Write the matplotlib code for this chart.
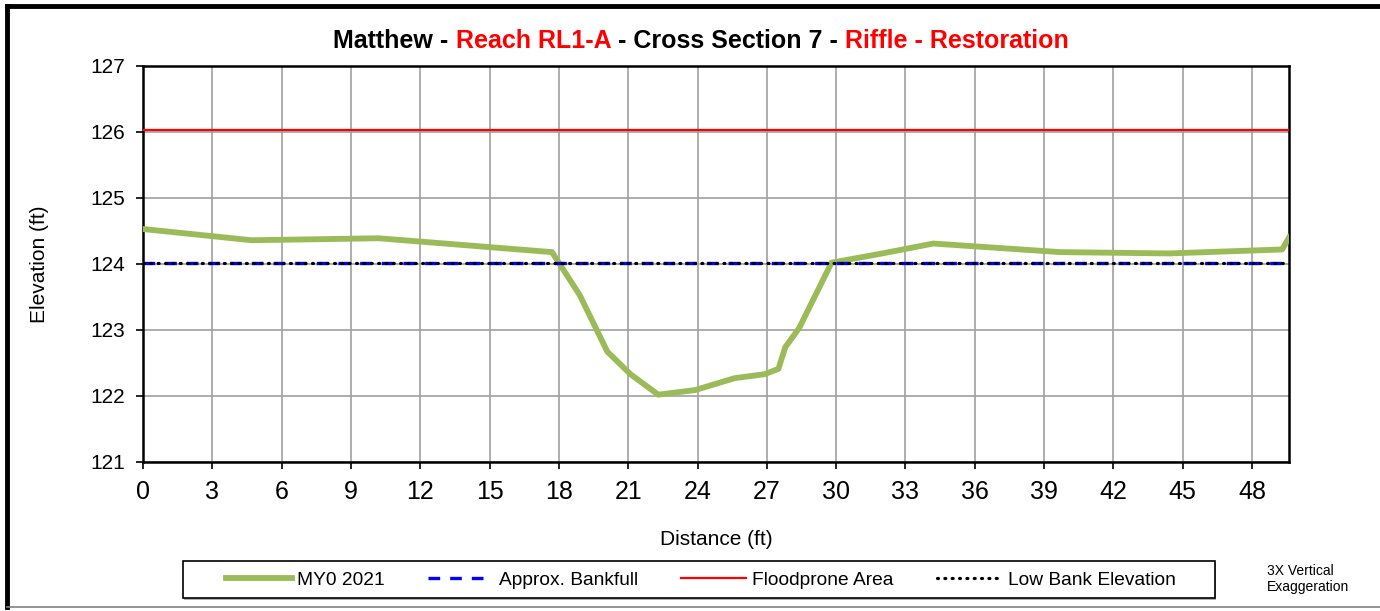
import matplotlib.pyplot as plt
from matplotlib.lines import Line2D
from matplotlib.patches import Rectangle

plt.rcParams['font.family'] = ['Liberation Sans', 'DejaVu Sans']

# surveyed cross section (distance ft, elevation ft)
station = [0.0, 4.7, 10.2, 17.7, 18.9, 20.1, 21.1, 22.3, 23.9, 25.6, 26.9,
           27.5, 27.8, 28.4, 29.8, 32.0, 34.2, 39.7, 44.4, 49.3, 49.6]
elevation = [124.53, 124.36, 124.39, 124.18, 123.53, 122.67, 122.33, 122.02,
             122.09, 122.27, 122.33, 122.41, 122.74, 123.03, 124.02, 124.16,
             124.31, 124.18, 124.16, 124.22, 124.40]

x_min, x_max = 0, 49.6
bankfull = 124.02
floodprone = 126.03
low_bank = 124.02

x_ticks = list(range(0, 49, 3))
y_ticks = list(range(121, 128))

fig = plt.figure(figsize=(13.8, 6.11), dpi=100)
ax = fig.add_axes([143 / 1380, 1 - 462 / 611, (1289 - 143) / 1380, (462 - 66) / 611])

ax.plot(station, elevation, color='#9BBB59', lw=4.2, solid_joinstyle='round',
        label='MY0 2021', zorder=3)
ax.plot([x_min, x_max], [bankfull, bankfull], color='#0000FF', lw=2.4,
        ls=(0, (3.5, 3.0)), label='Approx. Bankfull', zorder=4)
ax.plot([x_min, x_max], [floodprone, floodprone], color='#FF0000', lw=1.6,
        label='Floodprone Area', zorder=4)
ax.plot([x_min, x_max], [low_bank, low_bank], color='black', lw=2.3,
        ls=(0, (0.3, 2.0)), dash_capstyle='round', label='Low Bank Elevation', zorder=5)

ax.set_xlim(x_min, x_max)
ax.set_ylim(121, 127)
ax.set_xticks(x_ticks)
ax.set_yticks(y_ticks)
ax.grid(True, color='#a0a0a0', lw=1.2)
ax.set_axisbelow(True)
for s in ax.spines.values():
    s.set_linewidth(1.8)
ax.tick_params(axis='x', labelsize=18, direction='out', length=5, width=1.2, pad=8)
ax.tick_params(axis='y', labelsize=15, direction='out', length=5, width=1.2, pad=8)
ax.set_xlabel('Distance (ft)', fontsize=15, labelpad=19)
ax.set_ylabel('Elevation (ft)', fontsize=15, labelpad=30)

# two-colour title
parts = [('Matthew - ', 'black'), ('Reach RL1-A', 'red'), (' - Cross Section 7 - ', 'black'),
         ('Riffle - Restoration', 'red')]
fig.canvas.draw()
r = fig.canvas.get_renderer()
widths = []
texts = []
for s, c in parts:
    t = fig.text(0, 1 - 41 / 611, s, color=c, fontsize=18, fontweight='bold', va='center')
    texts.append(t)
    widths.append(t.get_window_extent(r).width)
x0 = 701 - sum(widths) / 2
for t, w in zip(texts, widths):
    t.set_x(x0 / 1380)
    x0 += w

# legend box drawn separately
fig.add_artist(Rectangle((184 / 1380, 1 - 600 / 611), 1032 / 1380, 37 / 611,
                         transform=fig.transFigure, facecolor='#b0b0b0', edgecolor='none'))
fig.add_artist(Rectangle((183 / 1380, 1 - 598 / 611), 1032 / 1380, 37 / 611,
                         transform=fig.transFigure, facecolor='white', edgecolor='black', lw=1.2))
leg = fig.legend(loc='center', bbox_to_anchor=(701 / 1380, 1 - 580 / 611),
                 ncol=4, fontsize=13.8, frameon=False, handlelength=3.4,
                 columnspacing=2.25, handletextpad=0.3, borderpad=0, borderaxespad=0)

fig.text(1267 / 1380, 1 - 579 / 611, '3X Vertical\nExaggeration', fontsize=10,
         va='center', ha='left', linespacing=1.25)

# outer chart frame
fig.add_artist(Line2D([7 / 1380, 1], [1 - 6 / 611, 1 - 6 / 611], color='black', lw=3.5))
fig.add_artist(Line2D([7 / 1380, 7 / 1380], [1 - 6 / 611, 1 - 607 / 611], color='black', lw=3.5))
fig.add_artist(Line2D([7 / 1380, 1], [1 - 607 / 611, 1 - 607 / 611], color='#808080', lw=1.2))

fig.savefig('out.png', dpi=100)
